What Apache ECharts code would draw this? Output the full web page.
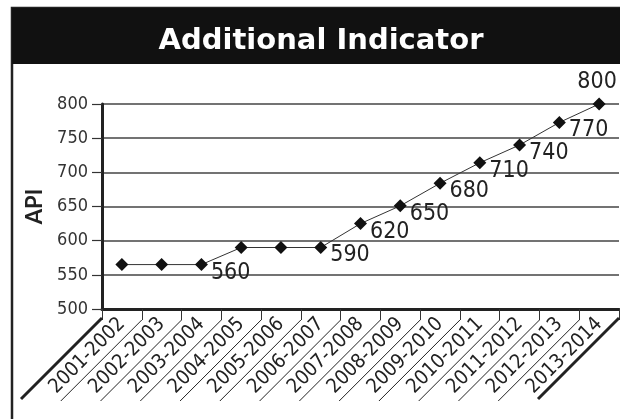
<!DOCTYPE html>
<html>
<head>
<meta charset="utf-8">
<script src="https://cdn.jsdelivr.net/npm/echarts@6/dist/echarts.min.js"></script>
<style>
  html, body { margin: 0; padding: 0; background: #fff; }
  #main { width: 620px; height: 419px; }
</style>
</head>
<body>
<div id="main"></div>
<script>
// data
var seasons = ['2001-2002', '2002-2003', '2003-2004', '2004-2005', '2005-2006', '2006-2007',
  '2007-2008', '2008-2009', '2009-2010', '2010-2011', '2011-2012', '2012-2013', '2013-2014'];
var apiValues = [565, 565, 565, 590, 590, 590, 625, 651, 684, 714, 740, 773, 800];
var pointLabels = ['', '', '560', '', '', '590', '620', '650', '680', '710', '740', '770', '800'];
var yTicks = { min: 500, max: 800, step: 50 };

var narrow = "'DejaVu Sans Condensed', 'Liberation Sans', sans-serif";

var chart = echarts.init(document.getElementById('main'), null, { renderer: 'canvas' });

var seriesData = apiValues.map(function (v, i) {
  var last = i === apiValues.length - 1;
  return {
    value: v,
    label: {
      show: pointLabels[i] !== '',
      formatter: pointLabels[i],
      position: last ? 'top' : 'right',
      distance: last ? 4 : 3,
      offset: last ? [-2, 0] : [0, 8]
    }
  };
});

var option = {
  animation: false,
  grid: { left: 102, right: 1, top: 104, bottom: 110, containLabel: false },
  xAxis: {
    type: 'category',
    data: seasons,
    boundaryGap: true,
    axisLine: { lineStyle: { color: '#222', width: 3 } },
    axisTick: { show: true, length: 11, lineStyle: { color: '#333', width: 1 } },
    axisLabel: {
      rotate: 45,
      interval: 0,
      margin: 12,
      fontSize: 20,
      color: '#222',
      fontFamily: narrow
    }
  },
  yAxis: {
    type: 'value',
    min: yTicks.min,
    max: yTicks.max,
    interval: yTicks.step,
    name: 'API',
    nameLocation: 'middle',
    nameGap: 55,
    nameRotate: 90,
    nameTextStyle: { fontSize: 22, fontWeight: 'bold', color: '#222', fontFamily: 'Lato, sans-serif' },
    axisLine: { show: true, lineStyle: { color: '#222', width: 3 } },
    axisTick: { show: true, length: 10, lineStyle: { color: '#333', width: 1.2 } },
    axisLabel: { margin: 14, fontSize: 18, color: '#333', fontFamily: narrow },
    splitLine: { lineStyle: { color: '#444', width: 1.6 } }
  },
  series: [{
    type: 'line',
    data: seriesData,
    symbol: 'diamond',
    symbolSize: 13,
    itemStyle: { color: '#111' },
    lineStyle: { color: '#333', width: 1 },
    label: {
      fontSize: 23,
      color: '#222',
      fontFamily: narrow
    },
    z: 5
  }]
};

chart.setOption(option);

// frame, title bar and the slanted separators under the category axis
var g = [];
g.push({
  type: 'rect', silent: true, z: 0,
  shape: { x: 12, y: 8, width: 640, height: 440 },
  style: { fill: 'none', stroke: '#222', lineWidth: 2.5 }
});
g.push({
  type: 'rect', silent: true, z: 1,
  shape: { x: 12, y: 8, width: 620, height: 56 },
  style: { fill: '#111' }
});
g.push({
  type: 'text', silent: true, z: 2,
  x: 321, y: 41,
  style: {
    text: 'Additional Indicator',
    fill: '#fff',
    font: 'bold 29px "DejaVu Sans", sans-serif',
    textAlign: 'center',
    textVerticalAlign: 'middle'
  }
});

var axisY = chart.convertToPixel({ yAxisIndex: 0 }, yTicks.min);
var c0 = chart.convertToPixel({ xAxisIndex: 0 }, 0);
var c1 = chart.convertToPixel({ xAxisIndex: 0 }, 1);
var step = c1 - c0;
for (var i = 0; i <= seasons.length; i++) {
  var px = c0 + (i - 0.5) * step;
  var edge = i === 0 || i === seasons.length;
  var y0 = axisY + (edge ? 9 : 11);
  g.push({
    type: 'line', silent: true, z: 3,
    shape: { x1: px, y1: y0, x2: px - 81, y2: y0 + 81 },
    style: { stroke: '#222', lineWidth: edge ? 3 : 1 }
  });
}
chart.setOption({ graphic: g });
</script>
</body>
</html>
